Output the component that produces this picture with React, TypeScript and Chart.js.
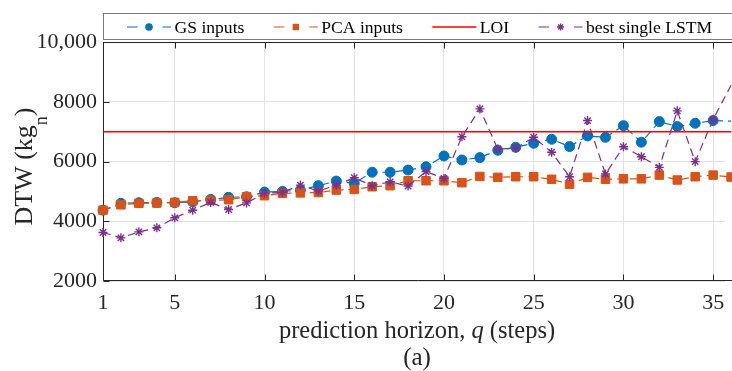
import React, { useEffect, useRef } from "react";
import { Chart, registerables } from "chart.js";

Chart.register(...registerables);

// ---------------- data ----------------
const horizons = [
  1, 2, 3, 4, 5, 6, 7, 8, 9, 10, 11, 12, 13, 14, 15, 16, 17, 18,
  19, 20, 21, 22, 23, 24, 25, 26, 27, 28, 29, 30, 31, 32, 33, 34, 35, 36,
];
const gsInputs = [
  4370, 4600, 4620, 4630, 4620, 4650, 4730, 4800, 4820, 4975, 5000, 5045,
  5190, 5345, 5270, 5640, 5640, 5715, 5825, 6185, 6050, 6130, 6375, 6475,
  6610, 6745, 6500, 6855, 6810, 7200, 6645, 7335, 7170, 7280, 7370, 7350,
];
const pcaInputs = [
  4370, 4550, 4600, 4610, 4630, 4685, 4700, 4720, 4820, 4855, 4935, 4950,
  4960, 5045, 5065, 5155, 5190, 5355, 5355, 5355, 5290, 5500, 5470, 5490,
  5490, 5405, 5235, 5470, 5405, 5420, 5420, 5545, 5380, 5490, 5545, 5480,
];
const bestSingleLstm = [
  3625, 3445, 3645, 3780, 4115, 4370, 4630, 4395, 4615, 4935, 4965, 5210,
  5010, 5210, 5455, 5190, 5320, 5180, 5660, 5435, 6830, 7760, 6420, 6445,
  6810, 6310, 5490, 7370, 5580, 6495, 6160, 5805, 7695, 5995, 7415, 8550,
];
const loiLevel = 7000;
const xAxisRange = [1, 36];
const xVisibleMax = 35.66;
const yAxisRange = [2000, 10000];
const xTickValues = [1, 5, 10, 15, 20, 25, 30, 35];
const yTickValues = [2000, 4000, 6000, 8000, 10000];
const seriesLabels = ["GS inputs", "PCA inputs", "LOI", "best single LSTM"];
const xTitleParts = ["prediction horizon, ", "q", " (steps)"];
const yTitleParts = ["DTW (kg", "n", ")"];
const panelLabel = "(a)";

// ---------------- styles ----------------
const SERIF = "'Liberation Serif', 'Times New Roman', serif";
const C_GS = "#0072BD";
const C_PCA = "#D95319";
const C_LOI = "#FF0000";
const C_LSTM = "#7E2F8E";
const AXIS_COLOR = "#262626";
const GRID_COLOR = "#e2e2e2";
const DASH = [8, 5];

const toPoints = (vals: number[]) => horizons.map((h, i) => ({ x: h, y: vals[i] }));

function drawMarker(ctx: CanvasRenderingContext2D, style: string, x: number, y: number, r: number, color: string) {
  ctx.save();
  ctx.setLineDash([]);
  ctx.fillStyle = color;
  ctx.strokeStyle = color;
  if (style === "circle") {
    ctx.beginPath();
    ctx.arc(x, y, r, 0, Math.PI * 2);
    ctx.fill();
  } else if (style === "rect") {
    ctx.fillRect(x - r, y - r, 2 * r, 2 * r);
  } else if (style === "star") {
    ctx.lineWidth = 1.4;
    ctx.beginPath();
    for (let k = 0; k < 4; k++) {
      const a = (k * Math.PI) / 4;
      ctx.moveTo(x - Math.cos(a) * r, y - Math.sin(a) * r);
      ctx.lineTo(x + Math.cos(a) * r, y + Math.sin(a) * r);
    }
    ctx.stroke();
  }
  ctx.restore();
}

const decorPlugin = {
  id: "decor",
  beforeDatasetsDraw(chart: any) {
    const { ctx, chartArea: a, scales } = chart;
    const L = Math.round(a.left) + 0.5;
    const T = Math.round(a.top) + 0.5;
    const B = Math.round(a.bottom) - 0.5;
    ctx.save();
    ctx.strokeStyle = AXIS_COLOR;
    ctx.lineWidth = 1;
    ctx.beginPath();
    ctx.moveTo(a.right + 10, T);
    ctx.lineTo(L, T);
    ctx.lineTo(L, B);
    ctx.lineTo(a.right + 10, B);
    const tl = 6;
    xTickValues.forEach((v) => {
      const px = Math.round(scales.x.getPixelForValue(v)) + 0.5;
      ctx.moveTo(px, B);
      ctx.lineTo(px, B - tl);
      ctx.moveTo(px, T);
      ctx.lineTo(px, T + tl);
    });
    yTickValues.forEach((v) => {
      const py = Math.round(scales.y.getPixelForValue(v)) + 0.5;
      ctx.moveTo(L, py);
      ctx.lineTo(L + tl, py);
    });
    ctx.stroke();
    ctx.restore();
  },
  afterDraw(chart: any) {
    const { ctx, chartArea: a, scales } = chart;
    ctx.save();
    ctx.fillStyle = AXIS_COLOR;

    // ----- x title with italic q -----
    const xFont = `24.5px ${SERIF}`;
    const xFontI = `italic 24.5px ${SERIF}`;
    ctx.font = xFont;
    const w0 = ctx.measureText(xTitleParts[0]).width;
    const w2 = ctx.measureText(xTitleParts[2]).width;
    ctx.font = xFontI;
    const w1 = ctx.measureText(xTitleParts[1]).width;
    const cx = scales.x.getPixelForValue((xAxisRange[0] + xAxisRange[1]) / 2);
    const sx = cx - (w0 + w1 + w2) / 2;
    const xb = 337.5;
    ctx.textBaseline = "alphabetic";
    ctx.textAlign = "left";
    ctx.font = xFont;
    ctx.fillText(xTitleParts[0], sx, xb);
    ctx.font = xFontI;
    ctx.fillText(xTitleParts[1], sx + w0, xb);
    ctx.font = xFont;
    ctx.fillText(xTitleParts[2], sx + w0 + w1, xb);

    // ----- panel label -----
    ctx.font = `25px ${SERIF}`;
    ctx.textAlign = "center";
    ctx.fillText(panelLabel, cx, 364.5);

    // ----- y title with subscript -----
    const yFont = `26px ${SERIF}`;
    const ySub = `18px ${SERIF}`;
    ctx.textAlign = "left";
    ctx.font = yFont;
    const y0 = ctx.measureText(yTitleParts[0]).width;
    const y2 = ctx.measureText(yTitleParts[2]).width;
    ctx.font = ySub;
    const y1 = ctx.measureText(yTitleParts[1]).width;
    const total = y0 + y1 + y2;
    const cy = (a.top + a.bottom) / 2 + 5;
    ctx.translate(32, cy);
    ctx.rotate(-Math.PI / 2);
    const tx = -total / 2;
    ctx.font = yFont;
    ctx.fillText(yTitleParts[0], tx, 0);
    ctx.font = ySub;
    ctx.fillText(yTitleParts[1], tx + y0, 14.5);
    ctx.font = yFont;
    ctx.fillText(yTitleParts[2], tx + y0 + y1, 0);
    ctx.setTransform(1, 0, 0, 1, 0, 0);

    // ----- legend -----
    const boxL = Math.round(a.left) + 0.5;
    ctx.strokeStyle = "#7a7a7a";
    ctx.lineWidth = 1;
    ctx.strokeRect(boxL, 13.5, chart.width + 20 - boxL, 26);
    const items = [
      { label: seriesLabels[0], color: C_GS, dashed: true, marker: "circle", r: 3.8 },
      { label: seriesLabels[1], color: C_PCA, dashed: true, marker: "rect", r: 3.2 },
      { label: seriesLabels[2], color: C_LOI, dashed: false, marker: "", r: 0 },
      { label: seriesLabels[3], color: C_LSTM, dashed: true, marker: "star", r: 3.5 },
    ];
    ctx.font = `17.6px ${SERIF}`;
    ctx.textBaseline = "alphabetic";
    let lx = 127;
    const ly = 27;
    items.forEach((it) => {
      ctx.strokeStyle = it.color;
      ctx.lineWidth = it.dashed ? 1.2 : 1.5;
      ctx.beginPath();
      if (it.dashed) {
        ctx.moveTo(lx, ly);
        ctx.lineTo(lx + 10.5, ly);
        ctx.moveTo(lx + 35.5, ly);
        ctx.lineTo(lx + 44, ly);
      } else {
        ctx.moveTo(lx, ly);
        ctx.lineTo(lx + 44, ly);
      }
      ctx.stroke();
      if (it.marker) drawMarker(ctx, it.marker, lx + 22, ly, it.r, it.color);
      ctx.fillStyle = "#000";
      ctx.fillText(it.label, lx + 47.5, 32.5);
      lx += 47.5 + ctx.measureText(it.label).width + 29.4;
    });
    ctx.restore();
  },
};

export default function App() {
  const ref = useRef<HTMLCanvasElement | null>(null);

  useEffect(() => {
    if (!ref.current) return;
    const common = { borderWidth: 1.2, borderDash: DASH, tension: 0, clip: false as any };
    const chart = new Chart(ref.current, {
      type: "line",
      data: {
        datasets: [
          {
            label: seriesLabels[0],
            data: toPoints(gsInputs),
            borderColor: C_GS,
            backgroundColor: C_GS,
            pointStyle: "circle",
            pointRadius: 5,
            pointBorderWidth: 1,
            pointBackgroundColor: C_GS,
            pointBorderColor: C_GS,
            order: 4,
            ...common,
          },
          {
            label: seriesLabels[1],
            data: toPoints(pcaInputs),
            borderColor: C_PCA,
            backgroundColor: C_PCA,
            pointStyle: "rect",
            pointRadius: 6,
            pointBorderWidth: 1,
            pointBackgroundColor: C_PCA,
            pointBorderColor: C_PCA,
            order: 3,
            ...common,
          },
          {
            label: seriesLabels[2],
            data: [
              { x: horizons[0], y: loiLevel },
              { x: horizons[horizons.length - 1], y: loiLevel },
            ],
            borderColor: C_LOI,
            backgroundColor: C_LOI,
            borderWidth: 1.5,
            pointRadius: 0,
            order: 2,
            clip: false as any,
          },
          {
            label: seriesLabels[3],
            data: toPoints(bestSingleLstm),
            borderColor: C_LSTM,
            backgroundColor: C_LSTM,
            pointStyle: "star",
            pointRadius: 4.5,
            pointBorderWidth: 1.4,
            pointBackgroundColor: C_LSTM,
            pointBorderColor: C_LSTM,
            order: 1,
            ...common,
          },
        ],
      },
      options: {
        responsive: false,
        animation: false,
        devicePixelRatio: 1,
        layout: { padding: { top: 42, right: 0, left: 0, bottom: 0 } },
        plugins: { legend: { display: false }, tooltip: { enabled: false } },
        scales: {
          x: {
            type: "linear",
            min: xAxisRange[0],
            max: xVisibleMax,
            afterBuildTicks: (s: any) => {
              s.ticks = xTickValues.map((v) => ({ value: v }));
            },
            afterFit: (s: any) => {
              s.height = 90;
              s.paddingLeft = 0;
              s.paddingRight = 0;
            },
            ticks: {
              autoSkip: false,
              maxRotation: 0,
              padding: 9,
              color: AXIS_COLOR,
              font: { family: SERIF, size: 22 },
              callback: (v: any) => String(v),
            },
            grid: { color: GRID_COLOR, drawTicks: false, lineWidth: 1 },
            border: { display: false },
          },
          y: {
            type: "linear",
            min: yAxisRange[0],
            max: yAxisRange[1],
            afterBuildTicks: (s: any) => {
              s.ticks = yTickValues.map((v) => ({ value: v }));
            },
            afterFit: (s: any) => {
              s.width = 103;
              s.paddingTop = 0;
              s.paddingBottom = 0;
            },
            ticks: {
              padding: 6,
              color: AXIS_COLOR,
              font: { family: SERIF, size: 22 },
              callback: (v: any) => (v >= 10000 ? "10,000" : String(v)),
            },
            grid: { color: GRID_COLOR, drawTicks: false, lineWidth: 1 },
            border: { display: false },
          },
        },
      },
      plugins: [decorPlugin],
    });
    return () => chart.destroy();
  }, []);

  return (
    <div style={{ position: "fixed", left: 0, top: 0, width: 732, height: 371, background: "#fff", overflow: "hidden" }}>
      <canvas ref={ref} width={732} height={371} style={{ display: "block", width: 732, height: 371 }} />
    </div>
  );
}
